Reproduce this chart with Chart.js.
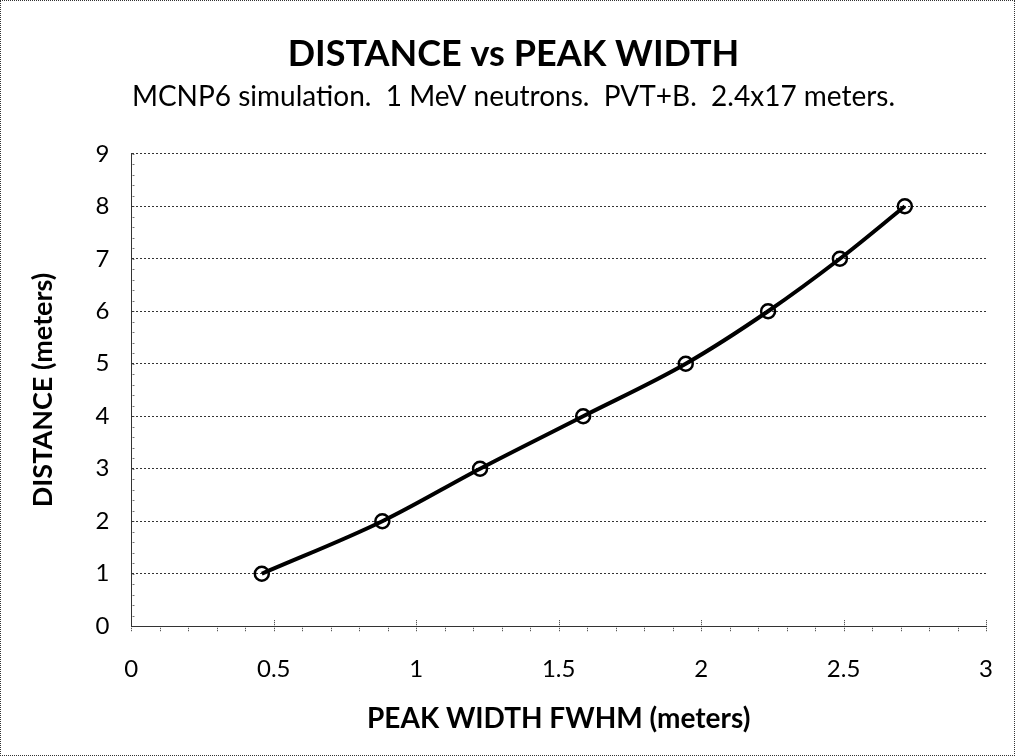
<!DOCTYPE html>
<html>
<head>
<meta charset="utf-8">
<script src="https://cdn.jsdelivr.net/npm/chart.js@4.4.1/dist/chart.umd.min.js"></script>
<style>
  html, body { margin: 0; padding: 0; background: #fff; }
  #wrap { position: relative; width: 1013px; height: 754px; border: 1px dotted #333; }
</style>
</head>
<body>
<div id="wrap"><canvas id="chart"></canvas></div>
<script>
// ===== data =====
const peakWidth = [0.458, 0.881, 1.224, 1.586, 1.946, 2.235, 2.487, 2.715];
const distance = [1, 2, 3, 4, 5, 6, 7, 8];
const titleText = 'DISTANCE vs PEAK WIDTH';
const subtitleText = 'MCNP6 simulation.  1 MeV neutrons.  PVT+B.  2.4x17 meters.';
const xTitle = 'PEAK WIDTH FWHM (meters)';
const yTitle = 'DISTANCE (meters)';

const FONT = 'Lato, "Open Sans", sans-serif';

// dotted gridlines
Chart.defaults.scale.grid.borderDash = [2, 2];

// small minor tick marks like the Excel original
const minorTicks = {
    id: 'minorTicks',
    afterDraw(chart) {
        const { ctx, scales: { x, y } } = chart;
        ctx.save();
        ctx.strokeStyle = '#333';
        ctx.lineWidth = 1;
        ctx.setLineDash([1, 1]);
        ctx.beginPath();
        for (let v = 0; v <= 9.001; v += 0.2) {
            const py = Math.round(y.getPixelForValue(v)) + 0.5;
            ctx.moveTo(x.left, py);
            ctx.lineTo(x.left + 4, py);
        }
        for (let v = 0; v <= 3.001; v += 0.1) {
            const px = Math.round(x.getPixelForValue(v)) + 0.5;
            const major = Math.abs(v * 2 - Math.round(v * 2)) < 0.01;
            ctx.moveTo(px, y.bottom - (major ? 6 : 0));
            ctx.lineTo(px, y.bottom + 6);
        }
        ctx.stroke();
        ctx.restore();
    }
};

new Chart(document.getElementById('chart'), {
    type: 'scatter',
    data: {
        datasets: [{
            data: peakWidth.map((w, i) => ({ x: w, y: distance[i] })),
            showLine: true,
            borderColor: '#000',
            borderWidth: 4,
            tension: 0.3,
            cubicInterpolationMode: 'monotone',
            pointRadius: 7,
            pointBorderWidth: 2.5,
            pointBorderColor: '#000',
            pointBackgroundColor: 'rgba(255,255,255,0)'
        }]
    },
    options: {
        responsive: true,
        maintainAspectRatio: false,
        animation: false,
        layout: { padding: { left: 22, right: 10, top: 32, bottom: 18 } },
        scales: {
            x: {
                min: 0, max: 3,
                ticks: { stepSize: 0.5, color: '#000', font: { family: FONT, size: 24 }, padding: 21, maxRotation: 0,
                         callback: v => String(+v.toFixed(1)) },
                grid: { drawOnChartArea: false, drawTicks: true, tickLength: 8, tickColor: 'rgba(0,0,0,0)' },
                border: { color: '#333', dash: [2, 2] },
                title: { display: true, text: xTitle, color: '#000', font: { family: FONT, size: 28, weight: 'bold', lineHeight: 1 }, padding: { top: 0, bottom: 4 } }
            },
            y: {
                min: 0, max: 9,
                ticks: { stepSize: 1, color: '#000', font: { family: FONT, size: 24 }, padding: 22 },
                grid: { color: '#333', drawTicks: false },
                border: { color: '#333', dash: [2, 2] },
                title: { display: true, text: yTitle, color: '#000', font: { family: FONT, size: 27, weight: 'bold' }, padding: { bottom: 14 } }
            }
        },
        plugins: {
            legend: { display: false },
            tooltip: { enabled: false },
            title: { display: true, text: titleText, color: '#000', font: { family: FONT, size: 36, weight: 'bold' }, padding: { bottom: 4 } },
            subtitle: { display: true, text: subtitleText, color: '#000', font: { family: FONT, size: 28 }, padding: { bottom: 40 } }
        }
    },
    plugins: [minorTicks]
});
</script>
</body>
</html>
